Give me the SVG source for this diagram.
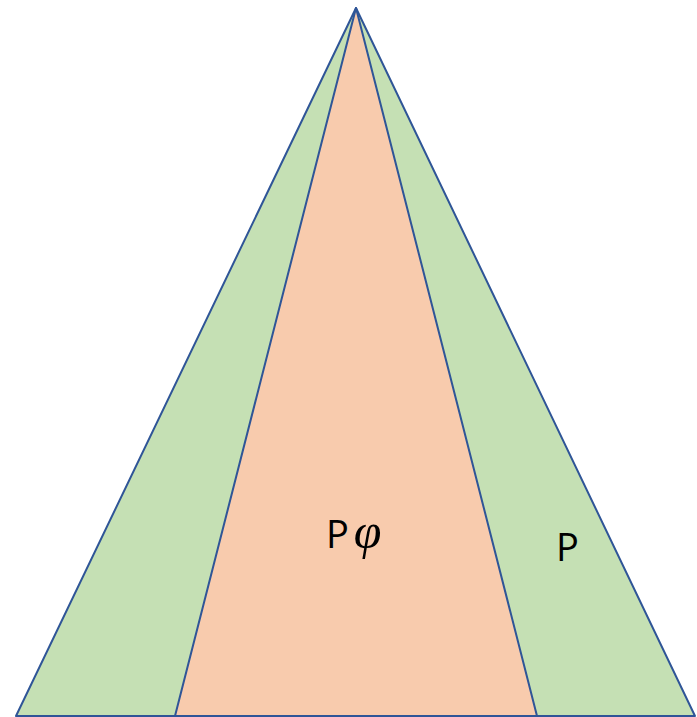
<svg xmlns="http://www.w3.org/2000/svg" width="697" height="717" viewBox="0 0 697 717">
<style>
.edge{stroke:#2F5597;stroke-width:2;stroke-linejoin:round}
.lbl{font-family:"Open Sans","Liberation Sans",sans-serif;font-size:38px;fill:#000}
.phi{font-family:"Liberation Serif","DejaVu Serif",serif;font-style:italic;font-size:50px;fill:#000}
</style>
<g id="outer">
<polygon class="edge" points="356,8 16,716 695,716" fill="#C5E0B4"/>
</g>
<g id="inner">
<polygon class="edge" points="356,8 175,716 537,716" fill="#F8CBAD"/>
</g>
<g id="labels">
<text class="lbl" x="326" y="548">P<tspan class="phi" dx="5">φ</tspan></text>
<text class="lbl" x="556" y="561">P</text>
</g>
</svg>
